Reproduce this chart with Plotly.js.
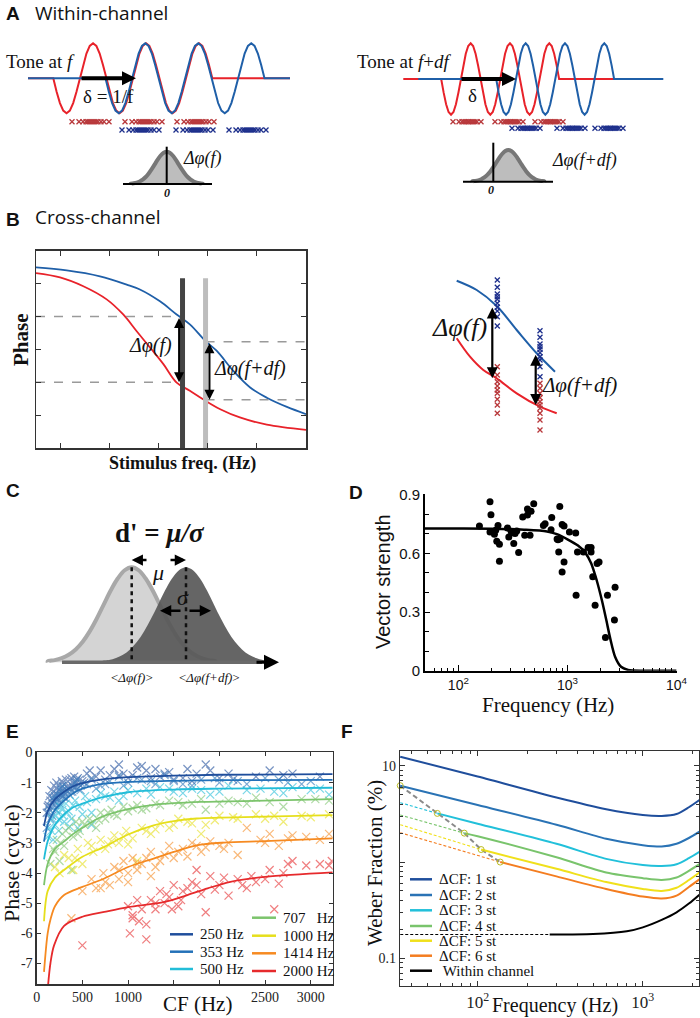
<!DOCTYPE html>
<html><head><meta charset="utf-8">
<script src="https://cdn.plot.ly/plotly-3.0.1.min.js"></script>
<style>html,body{margin:0;padding:0;background:#fff}#chart{width:700px;height:1018px}</style>
</head><body><div id="chart"></div>
<script>
// ================= DATA =================
// ---- Panel A (schematic waves, spike rasters) ----
const waveTemplate = [0,-0.383,-0.707,-0.924,-1,-0.924,-0.707,-0.383,0,0.383,0.707,0.924,1,0.924,0.707,0.383];
const aLeftRed   = {flat0:28,    start:53.3,  period:53,   cycles:3, flat1:290,   base:78.3, amp:35};
const aLeftBlue  = {flat0:28,    start:105.5, period:53,   cycles:3, flat1:290,   base:78.3, amp:35};
const aRightRed  = {flat0:403.3, start:441.2, period:39.3, cycles:3, flat1:620,   base:79,   amp:35.7};
const aRightBlue = {flat0:418.3, start:496.2, period:39.3, cycles:3, flat1:663.3, base:79,   amp:35.7};
const spikeOffsetsL = [-21,-14,-10,-7,-5,-3,-1,1,3,5,8,11,16];
const spikeOffsetsR = [-15,-9,-6,-4,-2,0,1,3,5,7,9,13];
const aLeftRedCenters = [93,146,198], aLeftBlueCenters = [143,197,250];
const aRightRedCenters = [468,510,550], aRightBlueCenters = [527,572,610];
// gaussian template (in sigma units)
const gaussX = [-3,-2.75,-2.5,-2.25,-2,-1.75,-1.5,-1.25,-1,-0.75,-0.5,-0.25,0,0.25,0.5,0.75,1,1.25,1.5,1.75,2,2.25,2.5,2.75,3];
const gaussY = [0.011,0.023,0.044,0.079,0.135,0.216,0.325,0.458,0.607,0.755,0.882,0.969,1,0.969,0.882,0.755,0.607,0.458,0.325,0.216,0.135,0.079,0.044,0.023,0.011];

// ---- Panel B (cross-channel phase curves) ----
const bBlueX = [-0.49,0.137,0.816,1.36,1.63,2.04,2.38,2.65,2.97,3.20,3.54,3.88,4.22,4.63,5.02];
const bBlueY = [5.49,5.40,5.22,4.97,4.82,4.46,4.06,3.76,3.25,2.95,2.34,1.84,1.53,1.25,1.03];
const bRedX  = [-0.49,0,0.476,0.952,1.29,1.565,1.84,2.11,2.38,2.65,2.92,3.27,3.67,4.22,5.02];
const bRedY  = [5.32,5.19,4.92,4.52,4.06,3.55,3.05,2.55,1.99,1.74,1.48,1.18,0.93,0.71,0.55];
const bBarF = 2.50, bBarFdf = 2.97, bBarTop = 5.16;
const bPhaseF = [4.0, 2.0], bPhaseFdf = [3.23, 1.47];
// right schematic of B
const brBlueX = [456.7,476.7,496.7,516.7,536.7,555];
const brBlueY = [280.7,290,306,330,353.3,371.7];
const brRedX  = [456.7,470,483.3,496.7,516.7,540,556.7];
const brRedY  = [338.3,356.7,370,378.3,393.3,406.7,413.3];
const brCol1X = 497.3, brCol2X = 540;
const brBlue1 = [280,287.3,294,296.7,299.3,303.3,307.3,311,316.7,326];
const brRed1  = [366.7,375,381.7,386,390,393.3,399.3,405,413.3];
const brBlue2 = [330.7,337.3,344,346.7,349.3,352.7,356.7,360,366.7,376.7];
const brRed2  = [383.3,388.3,393.3,397.7,401.7,405,408.3,413.3,420,430];

// ---- Panel C ----
const cMeanF = 131.7, cMeanFdf = 186, cSigma = 28, cBase = 662.3, cHeight = 95;

// ---- Panel D (vector strength) ----
const dFreq = [156,195,199,195,214,220,231,225,238,238,282,290,304,317,322,331,343,357,389,406,430,430,454,464,491,602,624,718,708,804,820,851,832,857,894,894,931,931,1043,1191,1201,1236,1549,1648,1648,1707,1794,1872,1950,2232,2328,2698,2735,1403];
const dVS   = [0.740,0.864,0.798,0.709,0.698,0.718,0.742,0.662,0.646,0.560,0.730,0.684,0.713,0.706,0.650,0.701,0.714,0.604,0.786,0.692,0.796,0.827,0.692,0.815,0.854,0.742,0.752,0.783,0.721,0.674,0.670,0.840,0.607,0.675,0.505,0.747,0.740,0.556,0.709,0.704,0.386,0.607,0.630,0.630,0.607,0.480,0.335,0.548,0.556,0.170,0.386,0.259,0.427,0.607];
const dFitFreq = [49,100,200,400,650,800,1000,1250,1450,1650,1860,2070,2270,2480,2740,3100,3600,5000,10000];
const dFitVS   = [0.727,0.727,0.726,0.721,0.712,0.698,0.672,0.640,0.605,0.550,0.460,0.360,0.260,0.160,0.070,0.020,0.004,0,0];

// ---- Panel E (phase vs CF) ----
const eLabels = ['250 Hz','353 Hz','500 Hz','707\u00a0\u00a0\u00a0Hz','1000 Hz','1414 Hz','2000 Hz'];
const eColors = ['#1f4e9c','#2371b8','#22bdd8','#7cc46c','#e6df1c','#f68a21','#e62a2c'];
const eCF250 = [150,180,200,220,240,260,280,300,320,350,380,400,430,460,500,580,650,750,850,900,950,1000,1050,1150,1200,1300,1350,1450,1500,1600,1650,1750,1850,1900,2000,2150,2400,2550,2800,1100,800,120,170,190,210,230,250,270,290,310,340,370,420,450,480,110,130,140,160,185,215,245,275,305,330,360,390,410,440,470,520,550,600,700,900,1250,1400,1700,2100,2700,3100];
const ePh250 = [-1.6,-1.3,-1.5,-1.2,-1.1,-1.4,-1.0,-1.2,-0.9,-1.1,-0.85,-1.0,-0.95,-1.05,-0.95,-0.6,-0.8,-0.9,-0.55,-0.4,-0.7,-0.85,-0.75,-0.45,-0.6,-0.55,-0.8,-0.65,-0.9,-0.85,-0.55,-0.7,-0.4,-0.6,-0.85,-0.9,-0.8,-0.6,-0.7,-0.5,-0.75,-1.8,-1.7,-1.1,-1.35,-1.55,-1.25,-1.15,-1.45,-1.05,-1.3,-1.2,-1.15,-0.85,-1.1,-2.0,-1.75,-1.45,-1.25,-1.6,-1.0,-1.3,-0.95,-1.35,-1.15,-0.9,-1.1,-0.8,-1.0,-0.9,-1.0,-0.7,-0.85,-0.6,-0.75,-0.85,-0.7,-0.95,-0.7,-0.75,-0.8];
const eCF353 = [130,160,190,210,230,250,270,300,330,360,400,450,500,600,700,800,900,1000,1100,1250,1400,1600,1800,2000,2200,2500,2750,3000,280,440,150,175,205,235,265,315,375,110,140,170,200,220,245,260,285,310,345,390,420,480,550,650,750,950,1150,1300,1500,1700,1950,2300,2650,2900];
const ePh353 = [-2.0,-1.8,-1.6,-1.9,-1.4,-1.7,-1.3,-1.5,-1.25,-1.4,-1.15,-1.2,-1.05,-0.9,-1.1,-0.95,-0.8,-1.0,-0.85,-0.95,-0.75,-1.05,-0.9,-1.0,-0.95,-0.85,-1.0,-0.95,-1.1,-0.9,-2.2,-1.5,-1.75,-1.6,-1.45,-1.35,-1.3,-2.5,-1.9,-2.1,-1.45,-1.65,-1.55,-1.2,-1.35,-1.5,-1.2,-1.3,-1.0,-1.25,-1.05,-1.2,-1.05,-1.1,-0.9,-1.05,-0.95,-1.1,-0.85,-1.05,-0.9,-1.05];
const eCF500 = [140,170,200,230,260,290,320,350,380,420,470,530,600,650,700,800,850,950,1100,1200,1350,1500,1700,1900,2100,2300,2600,2800,3000,3200,450,600,180,240,300,360,120,160,210,250,280,330,400,500,550,750,900,1000,1250,1450,1600,1800,2000,2450,2700,3100];
const ePh500 = [-2.5,-2.2,-2.4,-2.0,-1.8,-2.1,-1.7,-1.95,-2.2,-1.6,-1.8,-1.45,-2.0,-1.55,-1.35,-1.5,-1.3,-1.45,-1.35,-1.2,-1.15,-1.3,-1.2,-1.4,-1.1,-1.25,-1.3,-1.15,-1.25,-1.4,-2.5,-2.4,-2.9,-2.6,-2.3,-2.45,-2.8,-2.6,-2.1,-2.25,-1.9,-2.0,-1.75,-2.05,-1.65,-1.45,-1.6,-1.25,-1.4,-1.2,-1.35,-1.25,-1.3,-1.2,-1.35,-1.2];
const eCF707 = [150,180,220,250,280,300,350,380,400,430,470,520,580,650,700,750,820,880,950,1000,1100,1200,1300,1450,1600,1800,2000,2200,2400,2700,2900,3200,1850,200,260,320,450,500,600,680,780,850,1050,1150,1350,1550,1700,2100,2300,2550,3050];
const ePh707 = [-3.7,-3.2,-2.9,-3.6,-2.7,-3.1,-2.5,-3.9,-2.8,-2.3,-2.6,-2.4,-2.2,-2.5,-2.0,-2.2,-1.9,-2.1,-1.8,-1.95,-1.75,-1.85,-1.7,-1.6,-1.75,-1.55,-1.7,-1.65,-1.5,-1.8,-1.55,-1.6,-1.9,-3.3,-3.0,-2.6,-2.7,-2.3,-2.35,-2.25,-2.0,-2.05,-1.85,-1.9,-1.75,-1.65,-1.7,-1.6,-1.7,-1.65,-1.55];
const eCF1000 = [200,300,350,400,450,500,560,620,700,780,850,900,980,1050,1150,1250,1350,1450,1550,1700,1850,2000,2200,2400,2700,2900,3200,1800,1100,250,420,600,750,820,950,1000,1200,1300,1500,1650,1950,2150,2500,2600,3000];
const ePh1000 = [-3.8,-3.4,-3.5,-3.9,-3.2,-3.7,-3.0,-3.3,-2.9,-3.05,-2.75,-3.0,-2.6,-2.85,-2.5,-2.7,-2.35,-2.5,-2.2,-2.35,-2.4,-2.1,-2.2,-2.05,-2.3,-2.1,-2.05,-2.7,-3.6,-4.0,-3.5,-3.1,-3.2,-2.95,-2.8,-3.05,-2.6,-2.55,-2.4,-2.3,-2.25,-2.15,-2.2,-2.1,-2.15];
const eCF1414 = [380,500,600,650,730,800,850,900,950,1000,1050,1100,1150,1250,1350,1450,1500,1600,1700,1800,1900,2000,2100,2200,2300,2450,2550,2650,2800,2950,3200,1250,700,750,900,1000,1100,1200,1300,1400,1550,1650,1750,1850,2050,2500,2750,3100];
const ePh1414 = [-5.5,-4.6,-4.2,-4.5,-4.0,-4.4,-3.8,-4.2,-3.6,-4.0,-3.5,-3.9,-3.7,-3.3,-3.6,-3.1,-3.5,-3.2,-3.0,-3.3,-2.95,-3.1,-3.0,-3.4,-2.5,-2.9,-2.7,-3.1,-2.75,-2.8,-2.7,-4.1,-4.5,-4.3,-3.9,-4.3,-3.7,-3.5,-3.8,-3.4,-3.3,-3.45,-3.1,-3.15,-3.2,-3.0,-2.85,-2.9];
const eCF2000 = [500,1000,1050,1020,1100,1150,1200,1200,1250,1300,1350,1400,1450,1500,1550,1650,1700,1800,1850,1900,2000,2100,2200,2300,2400,2550,2600,2700,2800,2950,3100,3230,1580,1750,1050,1120,1300,1420,1480,1600,1750,1950,2050,2250,2350,2500,2650,2750,3200];
const ePh2000 = [-6.4,-5.1,-5.5,-6.0,-4.9,-5.2,-5.7,-6.2,-4.9,-5.2,-4.6,-5.0,-4.8,-4.4,-5.1,-4.5,-4.3,-4.7,-5.3,-4.1,-4.4,-4.75,-4.2,-4.5,-4.3,-3.9,-5.2,-4.0,-3.6,-3.75,-3.7,-3.6,-4.9,-3.9,-5.4,-5.6,-5.0,-4.7,-5.2,-4.6,-4.4,-4.55,-4.15,-4.4,-4.1,-4.2,-4.35,-3.7,-3.75];
const eFitCF250 = [80,120,200,300,400,500,700,1000,1500,2000,3240];
const eFitPh250 = [-2.44,-1.95,-1.55,-1.3,-1.12,-1.02,-0.9,-0.82,-0.77,-0.74,-0.72];
const eFitCF353 = [80,120,200,300,400,500,700,1000,1500,2000,3240];
const eFitPh353 = [-2.96,-2.4,-1.9,-1.6,-1.35,-1.2,-1.05,-0.98,-0.94,-0.92,-0.91];
const eFitCF500 = [80,120,200,300,400,500,700,1000,1500,2000,3240];
const eFitPh500 = [-3.55,-2.95,-2.4,-2.05,-1.82,-1.7,-1.5,-1.32,-1.23,-1.2,-1.17];
const eFitCF707 = [80,120,200,300,400,500,700,1000,1300,1800,2500,3240];
const eFitPh707 = [-4.4,-3.7,-3.2,-2.95,-2.7,-2.5,-2.15,-1.88,-1.73,-1.64,-1.6,-1.55];
const eFitCF1000 = [80,120,200,300,500,740,1000,1280,1500,1750,2500,3240];
const eFitPh1000 = [-5.6,-4.6,-4.15,-3.9,-3.46,-3.13,-2.72,-2.42,-2.28,-2.19,-2.13,-2.08];
const eFitCF1414 = [80,120,154,200,300,500,740,1000,1280,1500,1750,2050,2500,3240];
const eFitPh1414 = [-7.28,-6.0,-5.5,-5.1,-4.73,-4.46,-4.18,-3.8,-3.52,-3.3,-3.08,-2.99,-2.94,-2.85];
const eFitCF2000 = [118,150,190,300,500,740,1000,1400,1650,1870,2120,2500,3240];
const eFitPh2000 = [-7.95,-7.0,-6.4,-5.75,-5.45,-5.29,-5.13,-4.96,-4.73,-4.51,-4.29,-4.13,-3.98];

// ---- Panel F (Weber fraction) ----
const fLabels = ['\u0394CF: 1 st','\u0394CF: 2 st','\u0394CF: 3 st','\u0394CF: 4 st','\u0394CF: 5 st','\u0394CF: 6 st','Within channel'];
const fColors = ['#1f4e9c','#2a73b5','#22c0da','#79c46c','#f0e01b','#f47d20','#000000'];
const fFreq1 = [34,100,300,600,1000,1300,1600,1900,2200];
const fWeb1  = [12.5,7.76,4.7,3.55,3.09,3.02,3.16,3.72,4.43];
const fFreq2 = [34,100,300,600,1000,1300,1600,1900,2200];
const fWeb2  = [6.24,3.93,2.45,1.75,1.50,1.45,1.55,1.78,2.07];
const fDashFreq3 = [34,57],  fDashWeb3 = [4.15,3.21];
const fFreq3 = [57,100,300,600,1000,1300,1600,1900,2200];
const fWeb3  = [3.21,2.51,1.55,1.08,0.93,0.91,0.95,1.10,1.28];
const fDashFreq4 = [34,83],  fDashWeb4 = [3.09,2.0];
const fFreq4 = [83,100,300,600,1000,1300,1600,1900,2200];
const fWeb4  = [2.0,1.86,1.12,0.78,0.68,0.65,0.69,0.81,0.95];
const fDashFreq5 = [34,105], fDashWeb5 = [2.45,1.35];
const fFreq5 = [105,300,600,1000,1300,1600,1900,2200];
const fWeb5  = [1.35,0.85,0.62,0.525,0.50,0.54,0.65,0.78];
const fDashFreq6 = [34,137], fDashWeb6 = [2.02,1.0];
const fFreq6 = [137,300,600,1000,1300,1600,1900,2200];
const fWeb6  = [1.0,0.71,0.525,0.437,0.417,0.447,0.55,0.66];
const fDashFreqW = [34,273], fDashWebW = [0.176,0.176];
const fFreqW = [273,500,800,1000,1300,1600,1900,2200];
const fWebW  = [0.176,0.178,0.19,0.209,0.25,0.30,0.37,0.457];
const fCrossFreq = [34,57,83,105,137];
const fCrossWeb  = [6.24,3.21,2.0,1.35,1.0];

// ================= HELPERS =================
const W = 700, H = 1018;
const px = x => x / W;
const py = y => 1 - y / H;
const SERIF = 'Liberation Serif, Times New Roman, serif';
const SANS = 'Liberation Sans, Arial, sans-serif';
const MYR = 'Open Sans, Noto Sans, sans-serif';

function buildWave(w){
  const xs=[w.flat0], ys=[w.base];
  for(let c=0;c<w.cycles;c++) for(let k=0;k<16;k++){ xs.push(w.start+(c+k/16)*w.period); ys.push(w.base - w.amp*waveTemplate[k]); }
  xs.push(w.start+w.cycles*w.period); ys.push(w.base);
  xs.push(w.flat1); ys.push(w.base);
  return {xs, ys};
}
function buildGauss(c, s, base, h){
  const xs = gaussX.map(g => c + s*g), ys = gaussY.map(g => base - h*g);
  return {xs:[xs[0],...xs,xs[xs.length-1]], ys:[base,...ys,base]};
}
function spikes(centers, offsets, y){
  const xs=[], ys=[];
  centers.forEach(c => offsets.forEach(o => { xs.push(c+o); ys.push(y); }));
  return {xs, ys};
}
const traces = [];
function addLine(x, y, color, width, xa, ya, extra){
  traces.push(Object.assign({type:'scatter', mode:'lines', x, y, xaxis:xa||'x', yaxis:ya||'y',
    line:{color, width}, hoverinfo:'skip'}, extra||{}));
}
function addX(xs, ys, color, size, xa, ya, op, lw){
  traces.push({type:'scatter', mode:'markers', x:xs, y:ys, xaxis:xa||'x', yaxis:ya||'y', hoverinfo:'skip',
    opacity: op||1, marker:{symbol:'x-thin', size, line:{color, width:lw||1.3}}});
}

// ================= PANEL A =================
[[aLeftRed,'#e8222a'],[aLeftBlue,'#1f5fa8'],[aRightRed,'#e8222a'],[aRightBlue,'#1f5fa8']].forEach(([w,c])=>{
  const r = buildWave(w); addLine(r.xs, r.ys, c, 2);
});
let s;
s = spikes(aLeftRedCenters, spikeOffsetsL, 121.7); addX(s.xs, s.ys, '#b8373a', 5);
s = spikes(aLeftBlueCenters, spikeOffsetsL, 130);  addX(s.xs, s.ys, '#1d2f8c', 5);
s = spikes(aRightRedCenters, spikeOffsetsR, 121.7); addX(s.xs, s.ys, '#b8373a', 5);
s = spikes(aRightBlueCenters, spikeOffsetsR, 128.3); addX(s.xs, s.ys, '#1d2f8c', 5);
let g;
g = buildGauss(166.7, 12, 184, 32.3);
addLine(g.xs, g.ys, '#777', 4, 'x','y', {fill:'toself', fillcolor:'#bdbdbd', line:{color:'#777', width:4, shape:'spline'}});
g = buildGauss(508.3, 12, 181.7, 31.7);
addLine(g.xs, g.ys, '#777', 4, 'x','y', {fill:'toself', fillcolor:'#bdbdbd', line:{color:'#777', width:4, shape:'spline'}});

// ================= PANEL B =================
addLine(bBlueX, bBlueY, '#1f5fa8', 1.8, 'x2','y2', {line:{color:'#1f5fa8', width:1.8, shape:'spline'}});
addLine(bRedX, bRedY, '#e8222a', 1.8, 'x2','y2', {line:{color:'#e8222a', width:1.8, shape:'spline'}});
addLine([-0.49, bBarF], [bPhaseF[0], bPhaseF[0]], '#999', 1.5, 'x2','y2', {line:{color:'#9a9a9a', width:1.5, dash:'dash'}});
addLine([-0.49, bBarF], [bPhaseF[1], bPhaseF[1]], '#999', 1.5, 'x2','y2', {line:{color:'#9a9a9a', width:1.5, dash:'dash'}});
addLine([bBarFdf, 5.02], [bPhaseFdf[0], bPhaseFdf[0]], '#999', 1.5, 'x2','y2', {line:{color:'#9a9a9a', width:1.5, dash:'dash'}});
addLine([bBarFdf, 5.02], [bPhaseFdf[1], bPhaseFdf[1]], '#999', 1.5, 'x2','y2', {line:{color:'#9a9a9a', width:1.5, dash:'dash'}});
addLine([bBarF, bBarF], [0, bBarTop], '#444', 5, 'x2','y2');
addLine([bBarFdf, bBarFdf], [0, bBarTop], '#bdbdbd', 5, 'x2','y2');
// right schematic
addLine(brBlueX, brBlueY, '#1f5fa8', 2, 'x','y', {line:{color:'#1f5fa8', width:2, shape:'spline'}});
addLine(brRedX, brRedY, '#e8222a', 2, 'x','y', {line:{color:'#e8222a', width:2, shape:'spline'}});
addX(brBlue1.map(()=>brCol1X), brBlue1, '#1d2f8c', 5);
addX(brRed1.map(()=>brCol1X), brRed1, '#b8373a', 5);
addX(brBlue2.map(()=>brCol2X), brBlue2, '#1d2f8c', 5);
addX(brRed2.map(()=>brCol2X), brRed2, '#b8373a', 5);

// ================= PANEL C =================
g = buildGauss(cMeanF, cSigma, cBase, cHeight);
addLine(g.xs, g.ys, '#a8a8a8', 4, 'x','y', {fill:'toself', fillcolor:'#d4d4d4', line:{color:'#a8a8a8', width:4, shape:'spline'}});
g = buildGauss(cMeanFdf, cSigma, cBase, cHeight);
addLine(g.xs, g.ys, 'rgba(0,0,0,0)', 0, 'x','y', {fill:'toself', fillcolor:'rgba(88,88,88,0.92)', line:{color:'rgba(0,0,0,0)', width:0, shape:'spline'}});
addLine([62, 262], [cBase, cBase], '#6a6a6a', 3.5);
addLine([cMeanF, cMeanF], [cBase - cHeight, cBase], '#111', 2.5, 'x','y', {line:{color:'#111', width:2.5, dash:'4px,4px'}});
addLine([cMeanFdf, cMeanFdf], [cBase - cHeight, cBase], '#111', 2.5, 'x','y', {line:{color:'#111', width:2.5, dash:'4px,4px'}});

// ================= PANEL D =================
addLine(dFitFreq, dFitVS, '#000', 2.5, 'x3','y3', {line:{color:'#000', width:2.5, shape:'spline', smoothing:0.8}});
traces.push({type:'scatter', mode:'markers', x:dFreq, y:dVS, xaxis:'x3', yaxis:'y3', hoverinfo:'skip',
  marker:{color:'#000', size:7}, cliponaxis:false});

// ================= PANEL E =================
const eScatter = [[eCF250,ePh250],[eCF353,ePh353],[eCF500,ePh500],[eCF707,ePh707],[eCF1000,ePh1000],[eCF1414,ePh1414],[eCF2000,ePh2000]];
const eFits = [[eFitCF250,eFitPh250],[eFitCF353,eFitPh353],[eFitCF500,eFitPh500],[eFitCF707,eFitPh707],[eFitCF1000,eFitPh1000],[eFitCF1414,eFitPh1414],[eFitCF2000,eFitPh2000]];
eScatter.forEach((d,i)=> addX(d[0], d[1], eColors[i], 8, 'x4','y4', 0.6, 1.2));
eFits.forEach((d,i)=> addLine(d[0], d[1], eColors[i], 1.8, 'x4','y4', {line:{color:eColors[i], width:1.8, shape:'spline', smoothing:0.9}}));

// ================= PANEL F =================
const dashStyle = c => ({line:{color:c, width:1.1, dash:'3px,2px'}});
[[fDashFreq3,fDashWeb3,2],[fDashFreq4,fDashWeb4,3],[fDashFreq5,fDashWeb5,4],[fDashFreq6,fDashWeb6,5],[fDashFreqW,fDashWebW,6]].forEach(([f,w,i])=>
  addLine(f, w, fColors[i], 1.1, 'x5','y5', dashStyle(fColors[i])));
addLine(fCrossFreq, fCrossWeb, '#888', 2, 'x5','y5', {line:{color:'#8a8a8a', width:2, dash:'5px,3px'}});
[[fFreq1,fWeb1],[fFreq2,fWeb2],[fFreq3,fWeb3],[fFreq4,fWeb4],[fFreq5,fWeb5],[fFreq6,fWeb6],[fFreqW,fWebW]].forEach(([f,w],i)=>
  addLine(f, w, fColors[i], 2, 'x5','y5', {line:{color:fColors[i], width:2, shape:'spline', smoothing:0.8}}));
traces.push({type:'scatter', mode:'markers', x:fCrossFreq, y:fCrossWeb, xaxis:'x5', yaxis:'y5', hoverinfo:'skip', cliponaxis:false,
  marker:{symbol:'circle-open', size:6, line:{width:1, color:[fColors[1],fColors[2],fColors[3],fColors[4],fColors[5]]}}});

// ================= ANNOTATIONS =================
const ann = [];
function T(text, x, y, size, family, opts){
  ann.push(Object.assign({text, x, y, xref:'x', yref:'y', showarrow:false, xanchor:'center', yanchor:'middle',
    font:{family, size, color:'#111'}}, opts||{}));
}
function A(x1, y1, x2, y2, width, both, xr, yr, size, color){
  ann.push({text:'', x:x2, y:y2, ax:x1, ay:y1, xref:xr||'x', yref:yr||'y', axref:xr||'x', ayref:yr||'y',
    showarrow:true, arrowhead:2, arrowsize:size||1, arrowwidth:width, arrowcolor:color||'#000', arrowside: both?'end+start':'end'});
}
// panel letters & titles
T('<b>A</b>', 4, 13, 19, SANS, {xanchor:'left'});
T('Within-channel', 33, 13, 19, MYR, {xanchor:'left'});
T('<b>B</b>', 4, 219, 19, SANS, {xanchor:'left'});
T('Cross-channel', 33, 217, 19, MYR, {xanchor:'left'});
T('<b>C</b>', 4, 490, 19, SANS, {xanchor:'left'});
T('<b>D</b>', 347, 492, 19, SANS, {xanchor:'left'});
T('<b>E</b>', 4, 731, 19, SANS, {xanchor:'left'});
T('<b>F</b>', 339, 731, 19, SANS, {xanchor:'left'});
// A texts
T('Tone at <i>f</i>', 40, 61, 19, SERIF);
T('\u03b4 = 1/f', 108, 96, 19, SERIF);
T('<i>\u0394\u03c6(f)</i>', 202, 158, 18, SERIF);
T('<i><b>0</b></i>', 166.7, 193, 12, SERIF);
T('Tone at <i>f</i>+<i>df</i>', 404, 61, 19, SERIF);
T('\u03b4', 472, 95, 19, SERIF);
T('<i>\u0394\u03c6(f+df)</i>', 584, 160, 18, SERIF);
T('<i><b>0</b></i>', 491, 190, 12, SERIF);
A(80, 78.3, 136, 78.3, 4, false, 'x', 'y', 0.7);
A(460, 79, 516, 79, 4, false, 'x', 'y', 0.7);
// B texts
T('<b>Phase</b>', 21, 340, 21, SERIF, {textangle:-90});
T('<b>Stimulus freq. (Hz)</b>', 182, 463, 18, SERIF);
T('<i>\u0394\u03c6(f)</i>', 150, 345, 20, SERIF);
T('<i>\u0394\u03c6(f+df)</i>', 250, 368, 20, SERIF);
T('<i>\u0394\u03c6(f)</i>', 459, 327, 26, SERIF);
T('<i>\u0394\u03c6(f+df)</i>', 579, 385, 21, SERIF);
A(2.43, bPhaseF[0], 2.43, bPhaseF[1], 2, true, 'x2', 'y2', 1);
A(3.05, bPhaseFdf[0], 3.05, bPhaseFdf[1], 2, true, 'x2', 'y2', 1);
A(492.3, 306, 492.3, 378.3, 2.2, true);
A(535.7, 353.3, 535.7, 405, 2.2, true);
// C texts
T("<b>d' = <i>\u03bc/\u03c3</i></b>", 160, 533, 27, SERIF);
T('<i>\u03bc</i>', 158, 572, 22, SERIF);
T('<i>\u03c3</i>', 183, 597, 22, SERIF);
T('&lt;<i>\u0394\u03c6(f)</i>&gt;', 132, 677, 13, SERIF);
T('&lt;<i>\u0394\u03c6(f+df)</i>&gt;', 209, 677, 13, SERIF);
A(148, 560, 131.7, 560, 2.5, false, 'x', 'y', 0.9);
A(169, 560, 186, 560, 2.5, false, 'x', 'y', 0.9);
A(182, 610.7, 160, 610.7, 2.5, false, 'x', 'y', 0.9);
A(188, 610.7, 211, 610.7, 2.5, false, 'x', 'y', 0.9);
A(255, cBase, 279, cBase, 3, false, 'x', 'y', 1);
// D texts
T('Vector strength', 383, 582, 20, SANS, {textangle:-90});
T('Frequency (Hz)', 548, 705, 21, SERIF);
// E texts
T('Phase (cycle)', 11, 863, 22, SERIF, {textangle:-90});
T('CF (Hz)', 197, 1004, 21, SERIF);
// F texts
T('Weber Fraction (%)', 375, 863, 21, SERIF, {textangle:-90});
T('Frequency (Hz)', 555, 1005, 20, SERIF);

// legends (manual, drawn as shapes + text)
const shapes = [];
function legendItem(x0, x1, y, color, label){
  shapes.push({type:'line', xref:'x', yref:'y', x0, x1, y0:y, y1:y, line:{color, width:2.5}});
  T(label, x1 + 5, y, 15, SERIF, {xanchor:'left'});
}
const eLegRowsA = [934.3, 951.7, 969];
const eLegRowsB = [917.7, 935.7, 953.3, 971];
[0,1,2].forEach((i,k)=> legendItem(170, 193, eLegRowsA[k], eColors[i], eLabels[i]));
[3,4,5,6].forEach((i,k)=> legendItem(252, 276, eLegRowsB[k], eColors[i], eLabels[i]));
const fLegRows = [879.3, 895, 910.3, 926, 940.7, 955.7, 970.7];
fLabels.forEach((l,i)=> legendItem(410, 432, fLegRows[i], fColors[i], (i===6?'\u00a0':'') + l));
// A gaussian axes
shapes.push({type:'line', xref:'x', yref:'y', x0:123, x1:212, y0:184, y1:184, line:{color:'#000', width:2}});
shapes.push({type:'line', xref:'x', yref:'y', x0:166.7, x1:166.7, y0:146.7, y1:184, line:{color:'#000', width:2}});
shapes.push({type:'line', xref:'x', yref:'y', x0:463, x1:553, y0:181.7, y1:181.7, line:{color:'#000', width:2}});
shapes.push({type:'line', xref:'x', yref:'y', x0:493.3, x1:493.3, y0:142.7, y1:181.7, line:{color:'#000', width:2}});

// ================= LAYOUT =================
const boxAxis = {showline:true, mirror:'ticks', linecolor:'#333', linewidth:1.3, ticks:'inside', tickcolor:'#333',
  showgrid:false, zeroline:false, fixedrange:true};
const layout = {
  width:W, height:H, margin:{l:0,r:0,t:0,b:0}, paper_bgcolor:'#fff', plot_bgcolor:'rgba(0,0,0,0)', showlegend:false,
  xaxis:{domain:[0,1], range:[0,W], visible:false, fixedrange:true},
  yaxis:{domain:[0,1], range:[H,0], visible:false, fixedrange:true},
  xaxis2:Object.assign({}, boxAxis, {domain:[px(36),px(306)], anchor:'y2', range:[-0.49,5.02], tickvals:[0,1,2,3,4], ticklen:5, showticklabels:false, linewidth:1.5}),
  yaxis2:Object.assign({}, boxAxis, {domain:[py(448),py(250.7)], anchor:'x2', range:[0,6], tickvals:[1,2,3,4,5], ticklen:5, showticklabels:false, linewidth:1.5}),
  xaxis3:{domain:[px(425),px(676.7)], anchor:'y3', type:'log', range:[1.694,4.002], showline:true, linecolor:'#000', linewidth:2,
    ticks:'inside', ticklen:6, tickcolor:'#000', tickvals:[100,1000,10000], ticktext:['10<sup>2</sup>','10<sup>3</sup>','10<sup>4</sup>'],
    tickfont:{family:SANS, size:14, color:'#111'}, showgrid:false, zeroline:false, fixedrange:true,
    minor:{ticks:'inside', ticklen:3, tickcolor:'#000', tickvals:[50,60,70,80,90,200,300,400,500,600,700,800,900,2000,3000,4000,5000,6000,7000,8000,9000]}},
  yaxis3:{domain:[py(670.7),py(494.3)], anchor:'x3', range:[0,0.902], showline:true, linecolor:'#000', linewidth:2,
    ticks:'inside', ticklen:5, tickcolor:'#000', tickvals:[0,0.3,0.6,0.9], ticktext:['0','0.3','0.6','0.9'],
    tickfont:{family:SANS, size:15, color:'#111'}, showgrid:false, zeroline:false, fixedrange:true,
    minor:{ticks:'inside', ticklen:4, tickcolor:'#000', tickvals:[0.1,0.2,0.4,0.5,0.7,0.8]}},
  xaxis4:Object.assign({}, boxAxis, {domain:[px(36.7),px(332.7)], anchor:'y4', range:[0,3240], tickvals:[0,500,1000,1500,2000,2500,3000],
    ticktext:['0','500','1000','','','2500','3000'], ticklen:4, tickfont:{family:SERIF, size:14, color:'#222'}}),
  yaxis4:Object.assign({}, boxAxis, {domain:[py(984.3),py(752.3)], anchor:'x4', range:[-7.69,0.005], tickvals:[0,-1,-2,-3,-4,-5,-6,-7],
    ticktext:['0','-1','-2','-3','-4','-5','-6','-7'], ticklen:4, tickfont:{family:SERIF, size:14, color:'#222'}}),
  xaxis5:Object.assign({}, boxAxis, {domain:[px(400),px(699)], anchor:'y5', type:'log', range:[1.53,3.34], tickvals:[100,1000],
    ticktext:['10<sup>2</sup>','10<sup>3</sup>'], ticklen:5, tickfont:{family:SERIF, size:17, color:'#222'},
    minor:{ticks:'inside', ticklen:3, tickcolor:'#333', tickvals:[40,50,60,70,80,90,200,300,400,500,600,700,800,900,2000]}}),
  yaxis5:Object.assign({}, boxAxis, {domain:[py(986),py(751)], anchor:'x5', type:'log', range:[-1.29,1.156], tickvals:[0.1,1,10],
    ticktext:['0.1','','10'], ticklen:5, tickfont:{family:SERIF, size:14, color:'#222'},
    minor:{ticks:'inside', ticklen:3, tickcolor:'#333', tickvals:[0.06,0.07,0.08,0.09,0.2,0.3,0.4,0.5,0.6,0.7,0.8,0.9,2,3,4,5,6,7,8,9]}}),
  annotations: ann,
  shapes: shapes
};
Plotly.newPlot('chart', traces, layout, {staticPlot:true, displayModeBar:false});
</script>
</body></html>
